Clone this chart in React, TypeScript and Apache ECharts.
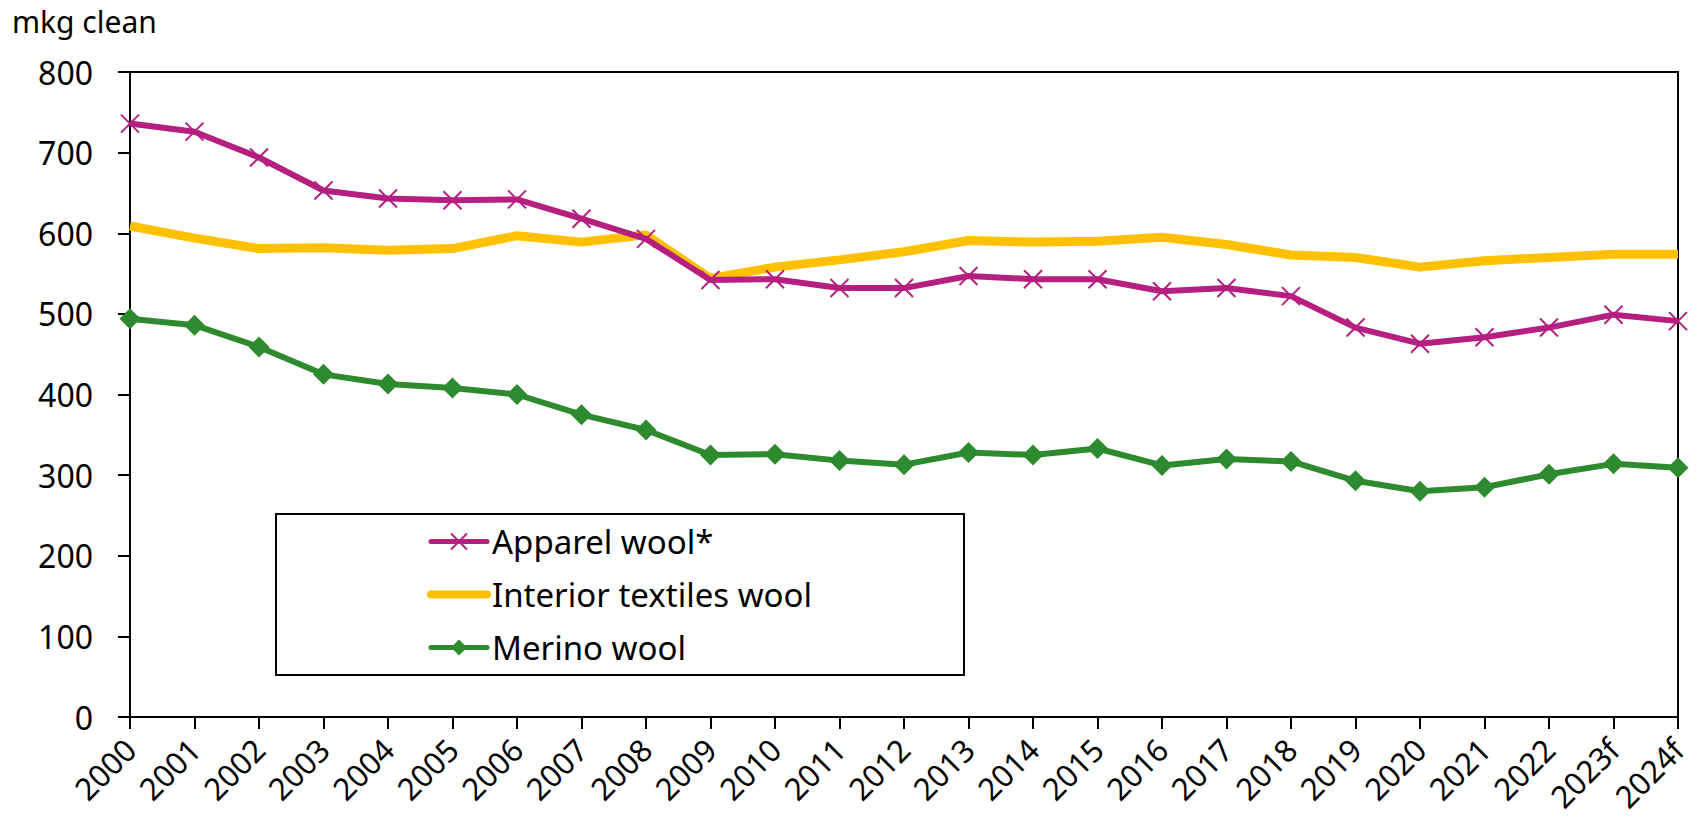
import React, { useEffect, useRef } from "react";
import * as echarts from "echarts";

const years = ["2000","2001","2002","2003","2004","2005","2006","2007","2008","2009","2010","2011","2012","2013","2014","2015","2016","2017","2018","2019","2020","2021","2022","2023f","2024f"];
const apparel = [736,726,694,653,643,641,642,618,593,542,543,532,532,547,543,543,528,532,522,483,463,471,483,499,491];
const interior = [609,594,581,582,579,581,597,589,598,544,558,567,577,591,589,590,595,586,573,570,558,566,570,574,574];
const merino = [494,486,459,425,413,408,400,375,356,325,326,318,313,328,325,333,312,320,317,293,280,285,301,314,309];
const yTicks = [0, 100, 200, 300, 400, 500, 600, 700, 800];

const FONT = "'Noto Sans', sans-serif";
const FS = 33;
const X_PATH = "path://M0,0L10,10M10,0L0,10";
const MAGENTA = "#B51F80";
const GOLD = "#FFC000";
const GREEN = "#2E8A2E";

export default function App() {
  const ref = useRef<HTMLDivElement>(null);
  useEffect(() => {
    const chart = echarts.init(ref.current!, undefined, { renderer: "svg" });
    chart.setOption({
      animation: false,
      backgroundColor: "#ffffff",
      textStyle: { fontFamily: FONT },
      grid: {
        left: 130, right: 18, top: 72, bottom: 109,
        show: true, borderColor: "#000", borderWidth: 2,
      },
      graphic: [
        {
          type: "text", left: 12, top: 6,
          style: { text: "mkg clean", fontSize: 30, fontFamily: FONT, fill: "#000" },
        },
        {
          type: "rect", left: 275, top: 513, z: 0,
          shape: { width: 688, height: 161 },
          style: { fill: "#fff", stroke: "#000", lineWidth: 2 },
        },
      ],
      legend: {
        orient: "vertical",
        left: 427, top: 525, padding: 0,
        itemWidth: 56, itemHeight: 20, itemGap: 20,
        z: 10,
        textStyle: { fontSize: FS, fontFamily: FONT, color: "#000" },
        data: [
          { name: "Apparel wool*", lineStyle: { width: 5, color: MAGENTA, cap: "round" } },
          {
            name: "Interior textiles wool",
            lineStyle: { width: 8, color: GOLD, cap: "round" },
            itemStyle: { color: "rgba(0,0,0,0)", borderWidth: 0, opacity: 0 },
          },
          { name: "Merino wool", lineStyle: { width: 5, color: GREEN, cap: "round" } },
        ],
      },
      xAxis: {
        type: "category",
        data: years,
        boundaryGap: false,
        axisLine: { lineStyle: { color: "#000", width: 2 } },
        axisTick: { show: true, length: 12, lineStyle: { color: "#000", width: 2 }, alignWithLabel: true },
        axisLabel: { rotate: 45, fontSize: 31, color: "#000", fontFamily: FONT, margin: 27, interval: 0 },
        splitLine: { show: false },
      },
      yAxis: {
        type: "value",
        min: 0, max: 800, interval: 100,
        axisLine: { show: true, lineStyle: { color: "#000", width: 2 } },
        axisTick: { show: true, length: 12, lineStyle: { color: "#000", width: 2 } },
        axisLabel: {
          fontSize: 32, color: "#000", fontFamily: FONT, margin: 37,
          formatter: (v: number) => (yTicks.includes(v) ? String(v) : ""),
        },
        splitLine: { show: false },
      },
      series: [
        {
          name: "Apparel wool*", type: "line", data: apparel,
          symbol: X_PATH, symbolSize: 18, showSymbol: true,
          lineStyle: { color: MAGENTA, width: 6 },
          itemStyle: { color: MAGENTA, borderColor: MAGENTA, borderWidth: 2 },
          z: 3,
        },
        {
          name: "Interior textiles wool", type: "line", data: interior,
          symbol: "none",
          lineStyle: { color: GOLD, width: 9 },
          itemStyle: { color: GOLD },
          z: 2,
        },
        {
          name: "Merino wool", type: "line", data: merino,
          symbol: "diamond", symbolSize: 21,
          lineStyle: { color: GREEN, width: 6 },
          itemStyle: { color: GREEN },
          z: 3,
        },
      ],
    });
    return () => chart.dispose();
  }, []);
  return <div ref={ref} style={{ position: "absolute", left: 0, top: 0, width: 1696, height: 826 }} />;
}
